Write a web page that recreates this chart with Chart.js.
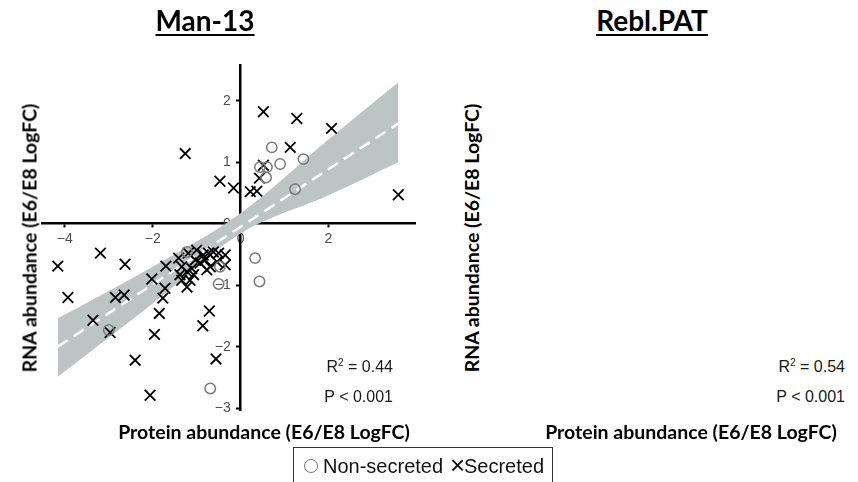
<!DOCTYPE html>
<html>
<head>
<meta charset="utf-8">
<script src="https://cdn.jsdelivr.net/npm/chart.js@4"></script>
<style>
  body { margin: 0; background: #fff; }
  #page { position: relative; width: 858px; height: 482px; overflow: hidden; font-family: "Liberation Sans", Arial, sans-serif; }
  #plot { position: absolute; left: 0; top: 0; }
  .title { position: absolute; transform: translate(-50%, -50%); font: 700 28px Lato, sans-serif; text-decoration: underline; text-decoration-thickness: 2px; text-underline-offset: 3px; white-space: nowrap; color: #000; }
  .ytitle { position: absolute; transform: translate(-50%, -50%) rotate(-90deg); font: 700 19.5px Lato, sans-serif; white-space: nowrap; color: #000; }
  .xtitle { position: absolute; transform: translate(-50%, -50%); font: 700 19.5px Lato, sans-serif; white-space: nowrap; color: #000; }
  .stat { position: absolute; transform: translate(-100%, -50%); font-size: 16px; white-space: nowrap; color: #1a1a1a; }
  .stat sup { font-size: 10px; vertical-align: 6px; line-height: 0; }
  #legend { position: absolute; left: 293px; top: 447px; width: 260px; height: 60px; border: 1.5px solid #333; box-sizing: border-box; }
  #legend span { position: absolute; white-space: nowrap; }
  .lg-circle { left: 10px; top: 11px; width: 12px; height: 12px; border: 1.5px solid #7a7a7a; border-radius: 50%; }
  .lg-text { font-size: 20px; line-height: 22px; top: 7px; color: #111; }
</style>
</head>
<body>
<div id="page">
  <canvas id="plot" width="430" height="482"></canvas>

  <div class="title" style="left:205px; top:20px;">Man-13</div>
  <div class="title" style="left:652px; top:20px;">Rebl.PAT</div>

  <div class="ytitle" style="left:29px; top:238px;">RNA abundance (E6/E8 LogFC)</div>
  <div class="ytitle" style="left:471px; top:238px;">RNA abundance (E6/E8 LogFC)</div>

  <div class="xtitle" style="left:264px; top:431px;">Protein abundance (E6/E8 LogFC)</div>
  <div class="xtitle" style="left:691px; top:431px;">Protein abundance (E6/E8 LogFC)</div>

  <div class="stat" style="left:393px; top:367px;">R<sup>2</sup> = 0.44</div>
  <div class="stat" style="left:393px; top:397px;">P &lt; 0.001</div>
  <div class="stat" style="left:845px; top:367px;">R<sup>2</sup> = 0.54</div>
  <div class="stat" style="left:845px; top:397px;">P &lt; 0.001</div>

  <div id="legend">
    <span class="lg-circle"></span>
    <span class="lg-text" style="left:29px;">Non-secreted</span>
    <span class="lg-text" style="left:156px; top:3px; font-size:26px; line-height:28px;">×</span>
    <span class="lg-text" style="left:170px;">Secreted</span>
  </div>
</div>

<script>
// Man-13: protein (x) vs RNA (y) log fold change
const secretedX = [0.52, 1.28, 2.07, -1.26, 1.13, 0.52, -0.47, -0.16, 0.22, 0.37, 0.43, 3.59,
  -4.16, -3.19, -2.63, -3.93, -2.85, -2.65, -3.36, -2.97, -2.02, -1.70, -1.72, -1.77, -1.85,
  -1.96, -2.40, -2.06, -0.71, -0.86, -0.56, -1.34, -1.22,
  -1.41, -1.19, -1.00, -0.85, -0.73, -0.62, -0.50, -0.35, -0.35, -0.92, -0.69, -0.54,
  -1.34, -1.22, -1.11, -1.07, -1.38, -1.03, -0.81, -1.15, -0.77];
const secretedY = [1.82, 1.71, 1.55, 1.14, 1.24, 0.95, 0.69, 0.58, 0.52, 0.53, 0.74, 0.47,
  -0.69, -0.48, -0.66, -1.20, -1.20, -1.16, -1.57, -1.77, -0.90, -0.69, -1.05, -1.21, -1.46,
  -1.80, -2.22, -2.79, -1.42, -1.66, -2.20, -0.92, -1.03,
  -0.56, -0.48, -0.43, -0.51, -0.48, -0.46, -0.48, -0.51, -0.67, -0.64, -0.70, -0.62,
  -0.70, -0.78, -0.73, -0.83, -0.83, -0.59, -0.59, -0.92, -0.75];

const nonSecretedX = [0.71, 0.90, 1.43, 1.24, 0.44, 0.60, 0.58, -3.00, -0.50, 0.33, 0.43, -0.69, -1.22, -0.47];
const nonSecretedY = [1.24, 0.97, 1.05, 0.56, 0.92, 0.92, 0.75, -1.73, -0.98, -0.56, -0.94, -2.68, -0.46, -0.70];

// fitted line and its confidence band
const fitX = [-4.16, 3.59];
const fitY = [-2.00, 1.63];
const bandX = [-4.16, -2, 0, 2, 3.59];
const bandUpper = [-1.54, -0.70, 0.17, 1.37, 2.30];
const bandLower = [-2.49, -1.30, -0.16, 0.46, 1.00];

const xTicks = [-4, -2, 0, 2];
const yTicks = [-3, -2, -1, 0, 1, 2];

function toPoints(xs, ys) {
  return xs.map((x, i) => ({ x: x, y: ys[i] }));
}

function fmt(v) {
  return v < 0 ? "\u2212" + Math.abs(v) : String(v);
}

const tickFont = { family: "'Liberation Sans', Arial, sans-serif", size: 14 };

new Chart(document.getElementById("plot"), {
  type: "scatter",
  data: {
    datasets: [
      {
        label: "Non-secreted",
        data: toPoints(nonSecretedX, nonSecretedY),
        pointStyle: "circle",
        pointRadius: 5.2,
        borderColor: "#7a7a7a",
        backgroundColor: "rgba(0,0,0,0)",
        borderWidth: 1.5,
        clip: false,
        order: 0,
      },
      {
        label: "Secreted",
        data: toPoints(secretedX, secretedY),
        pointStyle: "crossRot",
        pointRadius: 7.5,
        borderColor: "#000",
        borderWidth: 1.8,
        clip: false,
        order: 0,
      },
      {
        type: "line",
        label: "fit",
        data: toPoints(fitX, fitY),
        borderColor: "#fff",
        borderWidth: 2.5,
        borderDash: [12, 7],
        pointRadius: 0,
        fill: false,
        order: 1,
      },
      {
        type: "line",
        label: "upper",
        data: toPoints(bandX, bandUpper),
        borderWidth: 0,
        pointRadius: 0,
        cubicInterpolationMode: "monotone",
        backgroundColor: "#bcc4c4",
        fill: "+1",
        order: 2,
      },
      {
        type: "line",
        label: "lower",
        data: toPoints(bandX, bandLower),
        borderWidth: 0,
        pointRadius: 0,
        cubicInterpolationMode: "monotone",
        fill: false,
        order: 3,
      },
    ],
  },
  options: {
    responsive: false,
    animation: false,
    layout: { padding: { left: 42, right: 15, top: 65, bottom: 72 } },
    plugins: { legend: { display: false }, tooltip: { enabled: false } },
    scales: {
      x: {
        type: "linear",
        min: -4.52,
        max: 3.97,
        position: { y: 0 },
        z: 1,
        border: { color: "#000", width: 2.5 },
        grid: { drawOnChartArea: false, color: "#000", tickLength: 3, tickWidth: 2 },
        ticks: { color: "#4d4d4d", font: tickFont, padding: 4, callback: (v) => fmt(v) },
        afterBuildTicks: (axis) => { axis.ticks = xTicks.map((v) => ({ value: v })); },
      },
      y: {
        type: "linear",
        min: -3.03,
        max: 2.58,
        position: { x: 0 },
        z: 1,
        border: { color: "#000", width: 2.5 },
        grid: { drawOnChartArea: false, color: "#000", tickLength: 3, tickWidth: 2 },
        ticks: { color: "#4d4d4d", font: tickFont, callback: (v) => fmt(v) + "\u2002\u2009" },
        afterBuildTicks: (axis) => { axis.ticks = yTicks.map((v) => ({ value: v })); },
      },
    },
  },
});
</script>
</body>
</html>
